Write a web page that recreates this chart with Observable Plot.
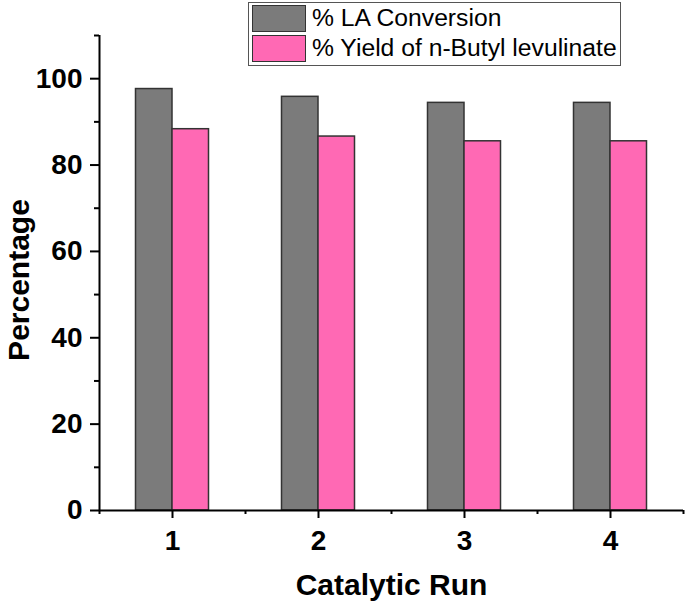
<!DOCTYPE html>
<html>
<head>
<meta charset="utf-8">
<script src="https://cdn.jsdelivr.net/npm/d3@7"></script>
<script src="https://cdn.jsdelivr.net/npm/@observablehq/plot@0.6"></script>
<style>
  html, body { margin: 0; padding: 0; background: white; }
  #wrap { position: relative; width: 685px; height: 610px; font-family: "Liberation Sans", Arial, sans-serif; }
  #legend { position: absolute; left: 248px; top: 2px; width: 373px; height: 64px; border: 1px solid #555; background: white; box-sizing: border-box; }
  .row { position: absolute; left: 3px; height: 28px; display: flex; align-items: center; }
  .sw { width: 54px; height: 27px; box-sizing: border-box; border: 1.5px solid #333; margin-right: 6px; }
  .lbl { font-size: 24.7px; color: #000; white-space: nowrap; line-height: 28px; }
</style>
</head>
<body>
<div id="wrap"></div>
<script>
const runs = [1, 2, 3, 4];
const laConversion = [97.6, 95.8, 94.4, 94.4];
const butylYield = [88.3, 86.6, 85.5, 85.5];
const seriesNames = ["% LA Conversion", "% Yield of n-Butyl levulinate"];
const seriesColors = ["#7b7b7b", "#ff69b4"];
const majorYTicks = [0, 20, 40, 60, 80, 100];
const minorYTicks = [10, 30, 50, 70, 90, 110];
const majorXTicks = [1, 2, 3, 4];
const minorXTicks = [0.5, 1.5, 2.5, 3.5, 4.5];
const xTitle = "Catalytic Run";
const yTitle = "Percentage";

const barWidth = 0.25;
const data = [];
runs.forEach((r, i) => {
  data.push({run: r, series: seriesNames[0], value: laConversion[i], x1: r - barWidth, x2: r});
  data.push({run: r, series: seriesNames[1], value: butylYield[i], x1: r, x2: r + barWidth});
});

const xDomain = [0.5, 4.5];
const yDomain = [0, 110];

const chart = Plot.plot({
  width: 685,
  height: 610,
  marginLeft: 99,
  marginRight: 2,
  marginTop: 35,
  marginBottom: 100,
  style: {fontFamily: "'Liberation Sans', Arial, sans-serif", background: "white", color: "black", overflow: "visible"},
  x: {domain: xDomain},
  y: {domain: yDomain},
  color: {domain: seriesNames, range: seriesColors},
  marks: [
    Plot.rectY(data, {x1: "x1", x2: "x2", y: "value", fill: "series", stroke: "#333", strokeWidth: 1.5}),
    Plot.ruleX([xDomain[0]], {y1: yDomain[0], y2: yDomain[1], stroke: "black", strokeWidth: 2}),
    Plot.ruleY([yDomain[0]], {x1: xDomain[0], x2: xDomain[1], stroke: "black", strokeWidth: 2}),
    Plot.axisY({ticks: majorYTicks, tickSize: 9, tickPadding: 8, fontSize: 28, fontWeight: "bold", strokeWidth: 2, label: null, tickFormat: d => d}),
    Plot.axisY({ticks: minorYTicks, tickSize: 5, strokeWidth: 2, label: null, tickFormat: () => ""}),
    Plot.axisX({ticks: majorXTicks, tickSize: 8, tickPadding: 12, fontSize: 28, fontWeight: "bold", strokeWidth: 2, label: null, tickFormat: d => d}),
    Plot.axisX({ticks: minorXTicks, tickSize: 4, strokeWidth: 2, label: null, tickFormat: () => ""}),
    Plot.text([xTitle], {frameAnchor: "bottom", dy: 75, fontSize: 30, fontWeight: "bold", fill: "black", lineAnchor: "middle", textAnchor: "middle"}),
    Plot.text([yTitle], {frameAnchor: "left", dx: -80, dy: 7, rotate: -90, fontSize: 30, fontWeight: "bold", fill: "black", lineAnchor: "middle", textAnchor: "middle"})
  ]
});

const wrap = document.getElementById("wrap");
wrap.appendChild(chart);

const legend = document.createElement("div");
legend.id = "legend";
seriesNames.forEach((name, i) => {
  const row = document.createElement("div");
  row.className = "row";
  row.style.top = (i === 0 ? 1 : 31) + "px";
  const sw = document.createElement("div");
  sw.className = "sw";
  sw.style.background = seriesColors[i];
  const lbl = document.createElement("span");
  lbl.className = "lbl";
  lbl.textContent = name;
  row.appendChild(sw);
  row.appendChild(lbl);
  legend.appendChild(row);
});
wrap.appendChild(legend);
</script>
</body>
</html>
